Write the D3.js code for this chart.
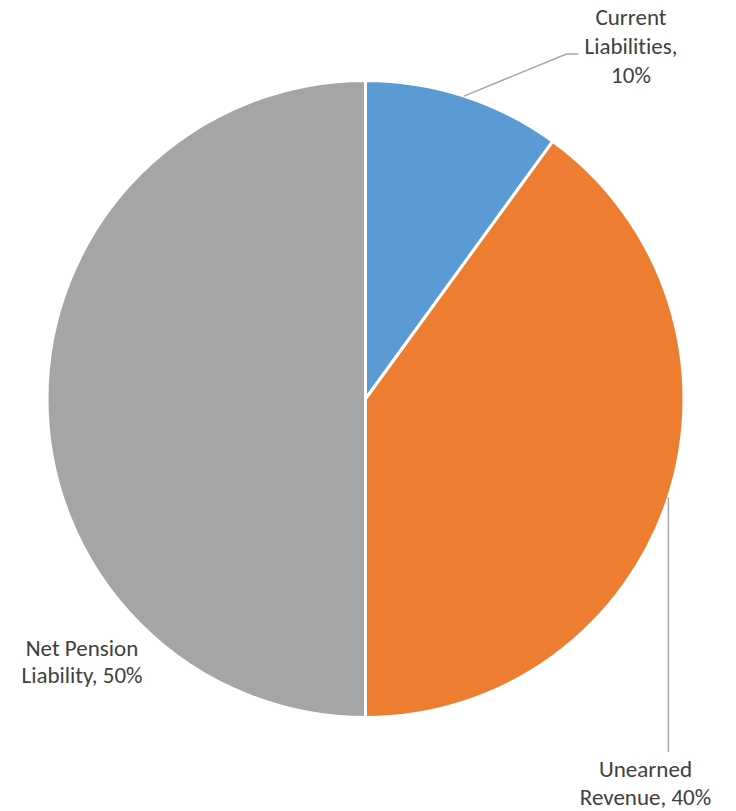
<!DOCTYPE html>
<html>
<head>
<meta charset="utf-8">
<script src="https://cdn.jsdelivr.net/npm/d3@7"></script>
<style>
  html, body { margin: 0; padding: 0; background: #fff; }
  svg { display: block; }
  .lbl { font-family: Carlito, Lato, "Liberation Sans", sans-serif; font-size: 23px; fill: #404040;
         font-variant-ligatures: none; font-feature-settings: "liga" 0; }
</style>
</head>
<body>
<svg id="chart" width="736" height="811"></svg>
<script>
// Liability breakdown (share of total, %)
const categories = ["Current Liabilities", "Unearned Revenue", "Net Pension Liability"];
const shares = [10, 40, 50];
const colors = ["#5B9BD5", "#ED7D31", "#A5A5A5"];

const W = 736, H = 811;
const cx = 365.5, cy = 399, R = 318.5;

const svg = d3.select("#chart");
const g = svg.append("g").attr("transform", `translate(${cx},${cy})`);

const data = categories.map((c, i) => ({ name: c, value: shares[i], color: colors[i] }));
const total = d3.sum(shares);
const pct = d3.format(".0%");

const pie = d3.pie().value(d => d.value).sort(null).startAngle(0).endAngle(2 * Math.PI);
const arcs = pie(data);
const arc = d3.arc().innerRadius(0).outerRadius(R);

g.selectAll("path.slice")
  .data(arcs)
  .join("path")
  .attr("class", "slice")
  .attr("d", arc)
  .attr("fill", d => d.data.color)
  .attr("stroke", "#fff")
  .attr("stroke-width", 3)
  .attr("stroke-linejoin", "round");

// point on the rim at the slice's mid angle
function rimPoint(d) {
  const a = (d.startAngle + d.endAngle) / 2;
  return [Math.sin(a) * R, -Math.cos(a) * R];
}

// label layout per slice: text lines, anchor offset from centre, leader routing
const layout = [
  { lines: d => ["Current", "Liabilities,", pct(d.data.value / total)],
    tx: 265.5, ty: -374, lh: 29, leader: "elbow", elbow: [201, -345], end: [213, -345] },
  { lines: d => ["Unearned", "Revenue, " + pct(d.data.value / total)],
    tx: 280, ty: 378, lh: 28, leader: "vertical", endY: 353 },
  { lines: d => ["Net Pension", "Liability, " + pct(d.data.value / total)],
    tx: -283.5, ty: 257, lh: 27, leader: "none" }
];

arcs.forEach((d, i) => {
  const L = layout[i];
  const p = rimPoint(d);
  if (L.leader === "elbow") {
    g.append("polyline")
      .attr("points", [p, L.elbow, L.end].map(q => q.join(",")).join(" "))
      .attr("fill", "none").attr("stroke", "#A6A6A6").attr("stroke-width", 1.5);
  } else if (L.leader === "vertical") {
    g.append("line")
      .attr("x1", p[0]).attr("y1", p[1])
      .attr("x2", p[0]).attr("y2", L.endY)
      .attr("stroke", "#A6A6A6").attr("stroke-width", 1.5);
  }
  const t = g.append("text").attr("class", "lbl").attr("text-anchor", "middle");
  L.lines(d).forEach((s, k) => {
    t.append("tspan").attr("x", L.tx).attr("y", L.ty + k * L.lh).text(s);
  });
});
</script>
</body>
</html>
